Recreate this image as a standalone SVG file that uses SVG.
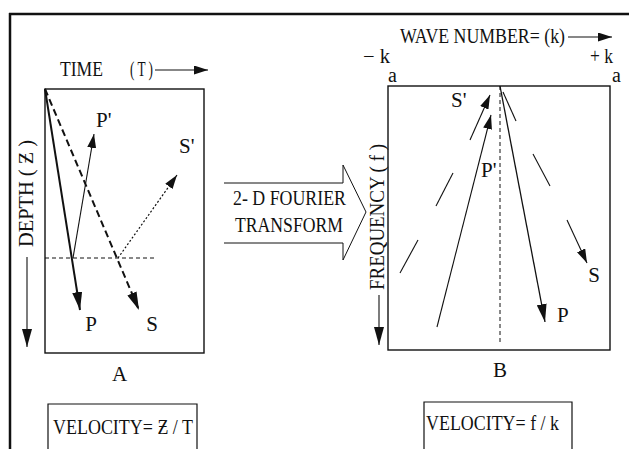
<svg xmlns="http://www.w3.org/2000/svg" width="629" height="449" viewBox="0 0 629 449">
<style>
text{font-family:"Liberation Serif","Times New Roman",serif;fill:#111;font-size:20px}
.lbl{font-size:21px}
.ln{stroke:#111;fill:none}
.thick{stroke-width:2}
.thin{stroke-width:1.1}
.dash{stroke-dasharray:7 4}
.fdash{stroke-dasharray:4 3}
.dot{stroke-dasharray:2 2}
</style>
<defs>
<marker id="ah" viewBox="0 0 18 10" refX="18" refY="5" markerWidth="18" markerHeight="10" markerUnits="userSpaceOnUse" orient="auto">
<path d="M0,0 L18,5 L0,10 z" fill="#111"/>
</marker>
<marker id="as" viewBox="0 0 14 9" refX="14" refY="4.5" markerWidth="14" markerHeight="9" markerUnits="userSpaceOnUse" orient="auto">
<path d="M0,0 L14,4.5 L0,9 z" fill="#111"/>
</marker>
</defs>

<g id="frame">
<line class="ln" x1="9" y1="14" x2="629" y2="14" stroke-width="2.5"/>
<line class="ln" x1="10" y1="13" x2="10" y2="449" stroke-width="2.5"/>
</g>

<g id="panelA">
<rect class="ln" x="45" y="89" width="159" height="264" stroke-width="1.4"/>
<text x="60" y="76" font-size="20" textLength="43" lengthAdjust="spacingAndGlyphs">TIME</text>
<text x="130" y="76" font-size="20" textLength="23" lengthAdjust="spacingAndGlyphs">( T )</text>
<text transform="translate(33,193.5) rotate(-90)" font-size="20" text-anchor="middle" textLength="107" lengthAdjust="spacingAndGlyphs">DEPTH   ( Ƶ )</text>
<text class="lbl" font-size="21" x="96" y="127">P'</text>
<text class="lbl" font-size="21" x="179" y="153">S'</text>
<text class="lbl" font-size="21" x="91" y="331" text-anchor="middle">P</text>
<text class="lbl" font-size="21" x="152" y="331" text-anchor="middle">S</text>
<text class="lbl" font-size="21" x="119.5" y="381" text-anchor="middle">A</text>
</g>

<g id="transform">
<path class="ln" d="M224,183 L343,183 L343,165 L366,212 L343,260 L343,243 L224,243" stroke-width="1"/>
<text x="233" y="205" font-size="20" textLength="113" lengthAdjust="spacingAndGlyphs">2- D FOURIER</text>
<text x="235" y="232" font-size="20" textLength="108" lengthAdjust="spacingAndGlyphs">TRANSFORM</text>
</g>

<g id="panelB">
<rect class="ln" x="388" y="86" width="222" height="264" stroke-width="1.4"/>
<text x="400" y="43" font-size="20" textLength="165" lengthAdjust="spacingAndGlyphs">WAVE NUMBER= (k)</text>
<text x="363" y="63" font-size="20" textLength="27" lengthAdjust="spacingAndGlyphs">− k</text>
<text x="590" y="63" font-size="20" textLength="23" lengthAdjust="spacingAndGlyphs">+ k</text>
<text x="388" y="82" font-size="20">a</text>
<text x="612" y="82" font-size="20">a</text>
<text transform="translate(384,217) rotate(-90)" font-size="20" text-anchor="middle" textLength="146" lengthAdjust="spacingAndGlyphs">FREQUENCY   ( f )</text>
<text class="lbl" font-size="21" x="451" y="107">S'</text>
<text class="lbl" font-size="21" x="481" y="177">P'</text>
<text class="lbl" font-size="21" x="557" y="322">P</text>
<text class="lbl" font-size="21" x="594" y="282" text-anchor="middle">S</text>
<text class="lbl" font-size="21" x="500" y="377" text-anchor="middle">B</text>
</g>

<g id="velocityA">
<path class="ln" d="M48,449 V404 H197 V449" stroke-width="1.2"/>
<text x="53" y="434" font-size="20" textLength="140" lengthAdjust="spacingAndGlyphs">VELOCITY= Ƶ / T</text>
</g>

<g id="velocityB">
<path class="ln" d="M424,449 V402 H572 V449" stroke-width="1.2"/>
<text x="426" y="430" font-size="20" textLength="133" lengthAdjust="spacingAndGlyphs">VELOCITY= f / k</text>
</g>

<g id="connectors">
<line class="ln thin" x1="155" y1="70" x2="208" y2="70" marker-end="url(#as)"/>
<line class="ln thin" x1="568" y1="37" x2="612" y2="37" marker-end="url(#as)"/>
<line class="ln thin" x1="27" y1="257" x2="27" y2="347" marker-end="url(#ah)"/>
<line class="ln thin" x1="379" y1="295" x2="379" y2="345" marker-end="url(#ah)"/>
<line class="ln thick" x1="45" y1="89" x2="80" y2="310" marker-end="url(#ah)"/>
<line class="ln thin" x1="73" y1="258" x2="94" y2="134" marker-end="url(#as)"/>
<line class="ln thick dash" x1="45" y1="89" x2="139" y2="310" marker-end="url(#ah)"/>
<line class="ln fdash" x1="45" y1="258" x2="155" y2="258" stroke-width="1"/>
<line class="ln dot" x1="118" y1="258" x2="177" y2="175" stroke-width="1.2" marker-end="url(#as)"/>
<line class="ln fdash" x1="500" y1="86" x2="500" y2="343" stroke-width="1"/>
<line class="ln" x1="500" y1="86" x2="545" y2="322" stroke-width="1.3" marker-end="url(#ah)"/>
<line class="ln thin" x1="503" y1="92" x2="516" y2="121"/>
<line class="ln thin" x1="533" y1="154" x2="550" y2="186"/>
<line class="ln thin" x1="567" y1="220" x2="587" y2="263" marker-end="url(#as)"/>
<line class="ln thin" x1="470" y1="140" x2="490" y2="95" marker-end="url(#as)"/>
<line class="ln thin" x1="437" y1="327" x2="491" y2="115" marker-end="url(#as)"/>
<line class="ln thin" x1="453" y1="173" x2="436" y2="206"/>
<line class="ln thin" x1="418" y1="240" x2="400" y2="273"/>
</g>
</svg>
